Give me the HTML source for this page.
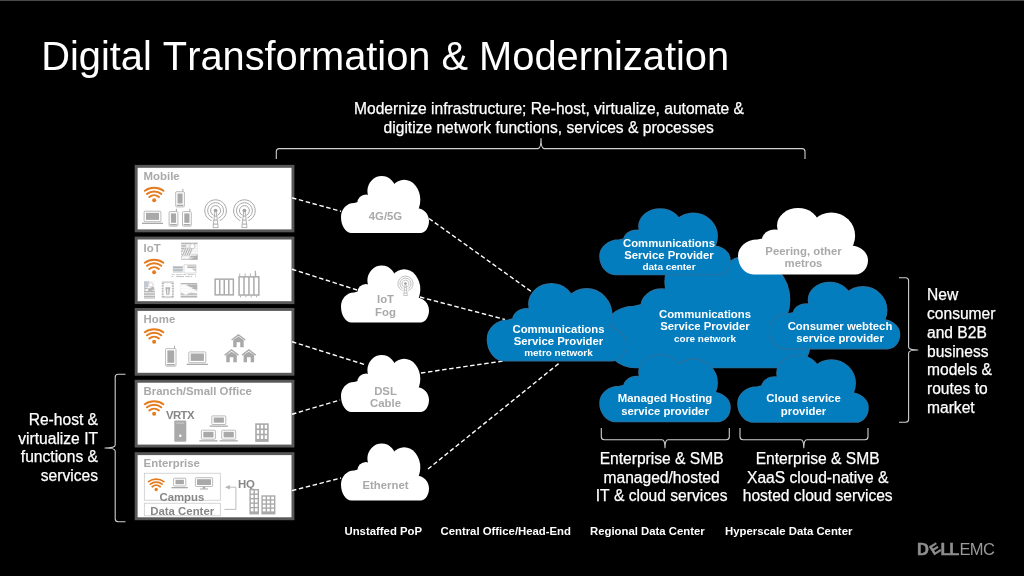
<!DOCTYPE html>
<html lang="en">
<head>
<meta charset="utf-8">
<title>Digital Transformation &amp; Modernization</title>
<style>
html,body{margin:0;padding:0;background:#000;}
body{width:1024px;height:576px;overflow:hidden;font-family:"Liberation Sans",sans-serif;}
svg{display:block;will-change:transform;}
svg text{font-family:"Liberation Sans",sans-serif;font-kerning:none;}
</style>
</head>
<body>
<svg width="1024" height="576" viewBox="0 0 1024 576">
<defs>
<pattern id="hatch" width="6" height="1.6" patternUnits="userSpaceOnUse"><rect width="6" height="1" fill="#adadad"/></pattern>
<pattern id="hatch2" width="6" height="1.6" patternUnits="userSpaceOnUse"><rect width="6" height="1.1" fill="#a9afb6"/></pattern>
</defs>
<rect x="0" y="0" width="1024" height="576" fill="#000"/>
<rect x="0" y="0" width="1024" height="1" fill="#4a4a4a"/>

<text x="41.2" y="69.5" font-size="39.8" fill="#fff" font-weight="normal" text-anchor="start" >Digital Transformation &amp; Modernization</text>
<text x="549.0" y="114.4" font-size="15.6" fill="#fff" font-weight="normal" text-anchor="middle" stroke="#fff" stroke-width="0.25">Modernize infrastructure; Re-host, virtualize, automate &amp;</text>
<text x="548.7" y="133.2" font-size="15.6" fill="#fff" font-weight="normal" text-anchor="middle" stroke="#fff" stroke-width="0.25">digitize network functions, services &amp; processes</text>
<g fill="none" stroke="#d0d0d0" stroke-width="1.1" stroke-linejoin="round">
<path d="M276.3 159 V151.6 Q276.3 148.6 279.3 148.6 H538.0 Q541 148.6 541 138.6 Q541 148.6 544.0 148.6 H802.0 Q805 148.6 805 151.6 V159"/>
<path d="M125.5 374.3 H118.2 Q115.2 374.3 115.2 377.3 V445.04999999999995 Q115.2 448.04999999999995 105 448.04999999999995 Q115.2 448.04999999999995 115.2 451.04999999999995 V518.8 Q115.2 521.8 118.2 521.8 H125.5"/>
<path d="M899 277.8 H905.6 Q908.6 277.8 908.6 280.8 V347.0 Q908.6 350.0 917.8 350.0 Q908.6 350.0 908.6 353.0 V419.2 Q908.6 422.2 905.6 422.2 H899"/>
<path d="M601.3 428 V436.7 Q601.3 439.7 604.3 439.7 H662.0 Q665 439.7 665 447.8 Q665 439.7 668.0 439.7 H726.3 Q729.3 439.7 729.3 436.7 V428"/>
<path d="M740 428 V436.7 Q740 439.7 743.0 439.7 H800.8 Q803.8 439.7 803.8 447.8 Q803.8 439.7 806.8 439.7 H865.0 Q868 439.7 868 436.7 V428"/>
</g>
<rect x="136.15" y="166.35" width="156.8" height="64.50" fill="#fff" stroke="#585858" stroke-width="2.9"/>
<text x="143.6" y="180.0" font-size="11.4" fill="#a9a9a9" font-weight="bold" text-anchor="start" >Mobile</text>
<rect x="136.15" y="238.05" width="156.8" height="64.60" fill="#fff" stroke="#585858" stroke-width="2.9"/>
<text x="143.6" y="252.0" font-size="11.4" fill="#a9a9a9" font-weight="bold" text-anchor="start" >IoT</text>
<rect x="136.15" y="309.45" width="156.8" height="64.80" fill="#fff" stroke="#585858" stroke-width="2.9"/>
<text x="143.6" y="323.2" font-size="11.4" fill="#a9a9a9" font-weight="bold" text-anchor="start" >Home</text>
<rect x="136.15" y="381.25" width="156.8" height="64.80" fill="#fff" stroke="#585858" stroke-width="2.9"/>
<text x="143.6" y="394.8" font-size="11.4" fill="#a9a9a9" font-weight="bold" text-anchor="start" >Branch/Small Office</text>
<rect x="136.15" y="453.65" width="156.8" height="65.10" fill="#fff" stroke="#585858" stroke-width="2.9"/>
<text x="143.6" y="467.0" font-size="11.4" fill="#a9a9a9" font-weight="bold" text-anchor="start" >Enterprise</text>
<g fill="none" stroke="#e47b1e" stroke-width="2.00" stroke-linecap="round"><path d="M144.85 190.80 A15.70 15.70 0 0 1 163.45 190.80"/><path d="M147.05 193.90 A11.40 11.40 0 0 1 161.25 193.90"/><path d="M149.35 197.00 A7.55 7.55 0 0 1 158.95 197.00"/><circle cx="154.15" cy="200.3" r="2.00" fill="#e47b1e" stroke="none"/></g>
<g><rect x="175.70000000000002" y="191.70000000000002" width="8.7" height="15.2" rx="1" fill="#fff" stroke="#a9a9a9" stroke-width="0.8"/><rect x="177.5" y="193.5" width="5.1" height="10" fill="#a9a9a9"/><rect x="176.8" y="204.70000000000002" width="6.5" height="1.4" fill="#a9a9a9"/><rect x="182.4" y="188.9" width="1" height="2.6" fill="#a9a9a9"/></g>
<g><rect x="169.1" y="211.6" width="8.799999999999999" height="14.6" rx="1" fill="#fff" stroke="#a9a9a9" stroke-width="0.8"/><rect x="170.89999999999998" y="213.39999999999998" width="5.199999999999999" height="9.4" fill="#a9a9a9"/><rect x="170.2" y="224.0" width="6.6" height="1.4" fill="#a9a9a9"/><rect x="175.89999999999998" y="208.79999999999998" width="1" height="2.6" fill="#a9a9a9"/></g>
<g><rect x="182.5" y="211.6" width="8.799999999999999" height="14.6" rx="1" fill="#fff" stroke="#a9a9a9" stroke-width="0.8"/><rect x="184.29999999999998" y="213.39999999999998" width="5.199999999999999" height="9.4" fill="#a9a9a9"/><rect x="183.6" y="224.0" width="6.6" height="1.4" fill="#a9a9a9"/><rect x="189.29999999999998" y="208.79999999999998" width="1" height="2.6" fill="#a9a9a9"/></g>
<g><rect x="144.1" y="211.20000000000002" width="16.8" height="10.5" rx="0.8" fill="#fff" stroke="#a9a9a9" stroke-width="0.8"/><rect x="146.0" y="212.8" width="13.000000000000002" height="7.1000000000000005" fill="#a9a9a9"/><rect x="142.0" y="222.70000000000002" width="21.0" height="1.3" fill="#a9a9a9"/></g>
<g fill="none" stroke="#a2a2a2" stroke-width="0.95"><path d="M217.47 215.24 A5.00 5.00 0 1 0 213.73 215.24"/><path d="M218.56 217.92 A7.90 7.90 0 1 0 212.64 217.92"/><path d="M219.65 220.61 A10.80 10.80 0 1 0 211.55 220.61"/><circle cx="215.6" cy="210.6" r="1.90" fill="#a0a0a0" stroke="none"/><path d="M214.90 211.60 L213.00 227.60 H218.20 L216.30 211.60 Z" fill="#fff" stroke="#a0a0a0" stroke-width="0.80"/><path d="M214.25 216.10 H216.95"/><path d="M213.77 220.10 H217.43"/><path d="M213.30 224.10 H217.90"/></g>
<g fill="none" stroke="#a2a2a2" stroke-width="0.95"><path d="M246.27 215.24 A5.00 5.00 0 1 0 242.53 215.24"/><path d="M247.36 217.92 A7.90 7.90 0 1 0 241.44 217.92"/><path d="M248.45 220.61 A10.80 10.80 0 1 0 240.35 220.61"/><circle cx="244.4" cy="210.6" r="1.90" fill="#a0a0a0" stroke="none"/><path d="M243.70 211.60 L241.80 227.60 H247.00 L245.10 211.60 Z" fill="#fff" stroke="#a0a0a0" stroke-width="0.80"/><path d="M243.05 216.10 H245.75"/><path d="M242.57 220.10 H246.23"/><path d="M242.10 224.10 H246.70"/></g>
<g fill="none" stroke="#e47b1e" stroke-width="2.00" stroke-linecap="round"><path d="M144.80 262.70 A15.70 15.70 0 0 1 163.40 262.70"/><path d="M147.00 265.80 A11.40 11.40 0 0 1 161.20 265.80"/><path d="M149.30 268.90 A7.55 7.55 0 0 1 158.90 268.90"/><circle cx="154.1" cy="272.2" r="2.00" fill="#e47b1e" stroke="none"/></g>
<g><rect x="181.2" y="242.4" width="16.4" height="17.3" fill="#fff"/><rect x="181.2" y="242.4" width="16.4" height="17.3" fill="url(#hatch)"/><path d="M186.94 244.48 L197.60 244.48 L197.60 254.51 L191.37 254.51 L188.58 258.83 L182.02 258.83 L182.02 252.78 Z" fill="#fff" opacity="0.8"/><path d="M182.51 255.89 L186.12 247.59" stroke="#b4b4b4" stroke-width="1.1"/><path d="M184.64 255.89 L188.25 247.59" stroke="#b4b4b4" stroke-width="1.1"/><path d="M186.78 255.89 L190.38 247.59" stroke="#b4b4b4" stroke-width="1.1"/><path d="M188.91 255.89 L192.52 247.59" stroke="#b4b4b4" stroke-width="1.1"/><circle cx="192.35" cy="246.21" r="2.62" fill="#fff" stroke="#bcbcbc" stroke-width="0.8"/><path d="M190.22 259.70 L197.60 254.86 L197.60 259.70 Z" fill="#b0b0b0"/></g>
<g><rect x="172.8" y="266" width="10" height="6.4" fill="#fff"/><rect x="172.8" y="266" width="10" height="6.4" fill="url(#hatch2)"/><path d="M184.0 264.7 H196.0 V273 H184.0 Z" fill="none" stroke="#cfcfcf" stroke-width="0.7"/><path d="M187.3 265 H195.8 V271.4 L190.8 268.2 H187.3 Z" fill="url(#hatch)"/><path d="M171.60000000000002 274.6 H196.0" stroke="#c4c4c4" stroke-width="0.9" stroke-dasharray="3.2 1.3 6 1"/><path d="M171.60000000000002 276.6 H196.0" stroke="#b8b8b8" stroke-width="0.9" stroke-dasharray="1.5 3 8 1.5 4 1"/></g>
<g><rect x="144" y="281.3" width="11" height="17.6" fill="#fff"/><rect x="144" y="281.3" width="11" height="17.6" fill="url(#hatch)"/><path d="M144.00 281.30 L150.05 281.30 L144.00 289.22 Z" fill="#c3cad4"/><path d="M148.95 281.30 L155.00 281.30 L155.00 290.98 L147.30 290.98 Z" fill="#fff" opacity="0.9"/><circle cx="150.82" cy="284.82" r="2.20" fill="#fff" stroke="#c8c8c8" stroke-width="0.7"/><circle cx="146.75" cy="290.10" r="1.10" fill="#fff"/><path d="M147.85 288.69 L153.90 286.58 L154.45 290.10 L148.40 291.86 Z" fill="#b8b8b8"/></g>
<g><rect x="161.8" y="281.3" width="12" height="16.8" fill="#fff"/><rect x="161.8" y="281.3" width="12" height="16.8" fill="url(#hatch)"/><rect x="163.48" y="282.98" width="8.64" height="13.44" rx="1.5" fill="#fff" opacity="0.92"/><path d="M165.40 287.18 H170.20 L169.24 294.74 H166.36 Z" fill="#b2b2b2"/><rect x="167.32" y="288.86" width="0.96" height="5.04" fill="#fff"/></g>
<g><rect x="180.6" y="283" width="16.6" height="15" fill="#fff"/><rect x="180.6" y="283" width="16.6" height="15" fill="url(#hatch)"/><path d="M180.60 284.80 L185.58 284.80 L197.20 291.25 L197.20 293.50 L190.56 292.30 L185.58 295.00 L180.60 292.00 Z" fill="#fff" opacity="0.9"/><path d="M186.41 284.50 L197.20 284.50 L197.20 289.75 Z" fill="#b4b4b4"/></g>
<g fill="none" stroke="#ababab" stroke-width="1.5"><rect x="215.15" y="279.15" width="18.20" height="15.70" fill="#fff"/><path d="M219.70 279.4 V294.59999999999997" stroke-width="1.5"/><path d="M224.25 279.4 V294.59999999999997" stroke-width="1.5"/><path d="M228.80 279.4 V294.59999999999997" stroke-width="1.5"/></g>
<g fill="none" stroke="#ababab" stroke-width="1.5"><rect x="239.05" y="276.85" width="19.80" height="18.20" fill="#fff"/><path d="M244.00 277.1 V294.8" stroke-width="1.5"/><path d="M248.95 277.1 V294.8" stroke-width="1.5"/><path d="M253.90 277.1 V294.8" stroke-width="1.5"/><path d="M239.76 273.5 V276.1 M240.56 295.8 V297.40000000000003" stroke-width="0.9"/><path d="M245.09 273.5 V276.1 M245.89 295.8 V297.40000000000003" stroke-width="0.9"/><path d="M250.41 273.5 V276.1 M251.21 295.8 V297.40000000000003" stroke-width="0.9"/><path d="M255.74 273.5 V276.1 M256.54 295.8 V297.40000000000003" stroke-width="0.9"/><path d="M255.34 270.70000000000005 V276.1" stroke-width="1.1"/></g>
<g fill="none" stroke="#e47b1e" stroke-width="2.00" stroke-linecap="round"><path d="M144.80 332.20 A15.70 15.70 0 0 1 163.40 332.20"/><path d="M147.00 335.30 A11.40 11.40 0 0 1 161.20 335.30"/><path d="M149.30 338.40 A7.55 7.55 0 0 1 158.90 338.40"/><circle cx="154.1" cy="341.7" r="2.00" fill="#e47b1e" stroke="none"/></g>
<g><rect x="165.6" y="348.59999999999997" width="10.399999999999999" height="17.599999999999998" rx="1" fill="#fff" stroke="#a9a9a9" stroke-width="0.8"/><rect x="167.39999999999998" y="350.4" width="6.799999999999999" height="12.399999999999999" fill="#a9a9a9"/><rect x="166.7" y="363.99999999999994" width="8.2" height="1.4" fill="#a9a9a9"/><rect x="173.99999999999997" y="345.8" width="1" height="2.6" fill="#a9a9a9"/></g>
<g><rect x="188.8" y="351.9" width="17.0" height="10.799999999999999" rx="0.8" fill="#fff" stroke="#a9a9a9" stroke-width="0.8"/><rect x="190.70000000000002" y="353.5" width="13.200000000000001" height="7.3999999999999995" fill="#a9a9a9"/><rect x="186.70000000000002" y="363.70000000000005" width="21.2" height="1.3" fill="#a9a9a9"/></g>
<g fill="#a9a9a9"><path d="M231.2 339.49 L238.45 333.9 L245.7 339.49 L244.89999999999998 340.55 L238.45 335.63 L232.0 340.55 Z"/><path d="M233.2 339.88 L238.45 336.56 L243.7 339.88 V347.2 H240.25 V342.15 H236.64999999999998 V347.2 H233.2 Z"/></g>
<g fill="#a9a9a9"><path d="M224.3 354.59 L231.55 349 L238.8 354.59 L238.0 355.65 L231.55 350.73 L225.10000000000002 355.65 Z"/><path d="M226.3 354.99 L231.55 351.66 L236.8 354.99 V362.3 H233.35000000000002 V357.25 H229.75 V362.3 H226.3 Z"/></g>
<g fill="#a9a9a9"><path d="M241.6 354.59 L248.85 349 L256.1 354.59 L255.3 355.65 L248.85 350.73 L242.4 355.65 Z"/><path d="M243.6 354.99 L248.85 351.66 L254.10000000000002 354.99 V362.3 H250.65 V357.25 H247.04999999999998 V362.3 H243.6 Z"/></g>
<g fill="none" stroke="#e47b1e" stroke-width="2.00" stroke-linecap="round"><path d="M144.80 404.20 A15.70 15.70 0 0 1 163.40 404.20"/><path d="M147.00 407.30 A11.40 11.40 0 0 1 161.20 407.30"/><path d="M149.30 410.40 A7.55 7.55 0 0 1 158.90 410.40"/><circle cx="154.1" cy="413.7" r="2.00" fill="#e47b1e" stroke="none"/></g>
<text x="166" y="419" font-size="11.4" fill="#878787" font-weight="bold" text-anchor="start" letter-spacing="-0.6">VRTX</text>
<g><rect x="174.3" y="420.5" width="12" height="21.3" rx="1" fill="#a9a9a9"/><rect x="176.3" y="422.5" width="8" height="1.2" fill="#c8c8c8"/><circle cx="180.3" cy="435.8" r="1.3" fill="#fff"/></g>
<g><rect x="211.8" y="415.9" width="14.0" height="8.6" rx="0.8" fill="#fff" stroke="#a9a9a9" stroke-width="0.8"/><rect x="213.70000000000002" y="417.5" width="10.200000000000001" height="5.2" fill="#a9a9a9"/><rect x="209.70000000000002" y="425.5" width="18.2" height="1.3" fill="#a9a9a9"/></g>
<g><rect x="201.4" y="430.2" width="14.0" height="9.0" rx="0.8" fill="#fff" stroke="#a9a9a9" stroke-width="0.8"/><rect x="203.3" y="431.8" width="10.200000000000001" height="5.6000000000000005" fill="#a9a9a9"/><rect x="199.3" y="440.20000000000005" width="18.2" height="1.3" fill="#a9a9a9"/></g>
<g><rect x="221.70000000000002" y="430.2" width="14.0" height="9.0" rx="0.8" fill="#fff" stroke="#a9a9a9" stroke-width="0.8"/><rect x="223.60000000000002" y="431.8" width="10.200000000000001" height="5.6000000000000005" fill="#a9a9a9"/><rect x="219.60000000000002" y="440.20000000000005" width="18.2" height="1.3" fill="#a9a9a9"/></g>
<g><rect x="255.2" y="423.3" width="13.5" height="18.6" fill="#a9a9a9"/><rect x="256.80" y="424.90" width="2.37" height="3.60" fill="#fff"/><rect x="260.77" y="424.90" width="2.37" height="3.60" fill="#fff"/><rect x="264.73" y="424.90" width="2.37" height="3.60" fill="#fff"/><rect x="256.80" y="430.10" width="2.37" height="3.60" fill="#fff"/><rect x="260.77" y="430.10" width="2.37" height="3.60" fill="#fff"/><rect x="264.73" y="430.10" width="2.37" height="3.60" fill="#fff"/><rect x="256.80" y="435.30" width="2.37" height="3.60" fill="#fff"/><rect x="260.77" y="435.30" width="2.37" height="3.60" fill="#fff"/><rect x="264.73" y="435.30" width="2.37" height="3.60" fill="#fff"/></g>
<rect x="144.3" y="473.2" width="76" height="27" fill="none" stroke="#c4c4c4" stroke-width="0.7"/>
<rect x="144.3" y="503.2" width="76" height="12.6" fill="none" stroke="#c4c4c4" stroke-width="0.7"/>
<g fill="none" stroke="#e47b1e" stroke-width="1.66" stroke-linecap="round"><path d="M148.48 481.62 A13.03 13.03 0 0 1 163.92 481.62"/><path d="M150.31 484.19 A9.46 9.46 0 0 1 162.09 484.19"/><path d="M152.22 486.76 A6.27 6.27 0 0 1 160.18 486.76"/><circle cx="156.2" cy="489.5" r="1.66" fill="#e47b1e" stroke="none"/></g>
<g><rect x="173.6" y="478.2" width="12.2" height="7.8" rx="0.8" fill="#fff" stroke="#a9a9a9" stroke-width="0.8"/><rect x="175.5" y="479.8" width="8.4" height="4.3999999999999995" fill="#a9a9a9"/><rect x="171.5" y="487.00000000000006" width="16.4" height="1.3" fill="#a9a9a9"/></g>
<g><rect x="195.4" y="477.7" width="17.2" height="8.799999999999999" rx="0.8" fill="#fff" stroke="#a9a9a9" stroke-width="0.8"/><rect x="197" y="479.2" width="14" height="5.8" fill="#a9a9a9"/><rect x="202.8" y="486.90000000000003" width="2.4" height="1.8" fill="#a9a9a9"/><rect x="200.0" y="488.50000000000006" width="8" height="1" fill="#a9a9a9"/></g>
<text x="181.9" y="500.7" font-size="11.4" fill="#878787" font-weight="bold" text-anchor="middle" >Campus</text>
<text x="182.2" y="514.9" font-size="11.4" fill="#878787" font-weight="bold" text-anchor="middle" >Data Center</text>
<text x="237.9" y="487.6" font-size="11.4" fill="#878787" font-weight="bold" text-anchor="start" >HQ</text>
<path d="M224.4 509.4 H235.9 V487.2 H229" fill="none" stroke="#b5b5b5" stroke-width="0.9"/>
<path d="M225 487.2 L229.8 484.9 V489.5 Z" fill="#b5b5b5"/>
<g><rect x="249.4" y="489" width="9.6" height="25.4" fill="#a9a9a9"/><rect x="250.80" y="490.40" width="2.70" height="3.08" fill="#fff"/><rect x="254.90" y="490.40" width="2.70" height="3.08" fill="#fff"/><rect x="250.80" y="494.88" width="2.70" height="3.08" fill="#fff"/><rect x="254.90" y="494.88" width="2.70" height="3.08" fill="#fff"/><rect x="250.80" y="499.36" width="2.70" height="3.08" fill="#fff"/><rect x="254.90" y="499.36" width="2.70" height="3.08" fill="#fff"/><rect x="250.80" y="503.84" width="2.70" height="3.08" fill="#fff"/><rect x="254.90" y="503.84" width="2.70" height="3.08" fill="#fff"/><rect x="250.80" y="508.32" width="2.70" height="3.08" fill="#fff"/><rect x="254.90" y="508.32" width="2.70" height="3.08" fill="#fff"/></g>
<g><rect x="261.4" y="495.3" width="14" height="19.1" fill="#a9a9a9"/><rect x="262.80" y="496.70" width="2.80" height="2.63" fill="#fff"/><rect x="267.00" y="496.70" width="2.80" height="2.63" fill="#fff"/><rect x="271.20" y="496.70" width="2.80" height="2.63" fill="#fff"/><rect x="262.80" y="500.72" width="2.80" height="2.63" fill="#fff"/><rect x="267.00" y="500.72" width="2.80" height="2.63" fill="#fff"/><rect x="271.20" y="500.72" width="2.80" height="2.63" fill="#fff"/><rect x="262.80" y="504.75" width="2.80" height="2.63" fill="#fff"/><rect x="267.00" y="504.75" width="2.80" height="2.63" fill="#fff"/><rect x="271.20" y="504.75" width="2.80" height="2.63" fill="#fff"/><rect x="262.80" y="508.77" width="2.80" height="2.63" fill="#fff"/><rect x="267.00" y="508.77" width="2.80" height="2.63" fill="#fff"/><rect x="271.20" y="508.77" width="2.80" height="2.63" fill="#fff"/></g>
<g stroke="#fff" stroke-width="1.4" stroke-dasharray="4.5 2.6" fill="none">
<line x1="291.99" y1="197.81" x2="341" y2="211.3"/>
<line x1="429" y1="218.5" x2="531" y2="291.3"/>
<line x1="292.02" y1="269.21" x2="357" y2="290"/>
<line x1="420" y1="297" x2="505" y2="319.5"/>
<line x1="292.02" y1="341.72" x2="366" y2="365"/>
<line x1="421" y1="373" x2="503" y2="361"/>
<line x1="292.01" y1="414.24" x2="340" y2="400"/>
<line x1="291.98" y1="490.65" x2="341" y2="478"/>
<line x1="428" y1="469" x2="560" y2="362.5"/>
</g>
<g fill="#fff"><path d="M354.00 203.00 C346.80 203.00 341.00 209.30 341.00 217.00 C341.00 225.80 345.73 233.00 351.50 233.00 H420.60 C425.30 233.00 429.00 227.60 429.00 220.80 C429.00 213.80 423.60 208.20 417.00 208.20 L411.00 196.00 L366.00 200.00 Z"/><ellipse cx="366.00" cy="203.30" rx="8.80" ry="8.80"/><ellipse cx="381.70" cy="191.00" rx="14.30" ry="15.00"/><ellipse cx="404.20" cy="199.80" rx="16.10" ry="20.00"/></g>
<text x="385.5" y="220.3" font-size="11.35" fill="#a9a9a9" font-weight="bold" text-anchor="middle" >4G/5G</text>
<g fill="#fff"><path d="M354.00 292.50 C346.80 292.50 341.00 298.80 341.00 306.50 C341.00 315.30 345.73 322.50 351.50 322.50 H420.60 C425.30 322.50 429.00 317.10 429.00 310.30 C429.00 303.30 423.60 297.70 417.00 297.70 L411.00 285.50 L366.00 289.50 Z"/><ellipse cx="366.00" cy="292.80" rx="8.80" ry="8.80"/><ellipse cx="381.70" cy="280.50" rx="14.30" ry="15.00"/><ellipse cx="404.20" cy="289.30" rx="16.10" ry="20.00"/></g>
<text x="385.5" y="303" font-size="11.35" fill="#a9a9a9" font-weight="bold" text-anchor="middle" >IoT</text>
<text x="385.5" y="316.4" font-size="11.35" fill="#a9a9a9" font-weight="bold" text-anchor="middle" >Fog</text>
<g fill="#fff"><path d="M354.00 382.00 C346.80 382.00 341.00 388.30 341.00 396.00 C341.00 404.80 345.73 412.00 351.50 412.00 H420.60 C425.30 412.00 429.00 406.60 429.00 399.80 C429.00 392.80 423.60 387.20 417.00 387.20 L411.00 375.00 L366.00 379.00 Z"/><ellipse cx="366.00" cy="382.30" rx="8.80" ry="8.80"/><ellipse cx="381.70" cy="370.00" rx="14.30" ry="15.00"/><ellipse cx="404.20" cy="378.80" rx="16.10" ry="20.00"/></g>
<text x="385.5" y="395" font-size="11.35" fill="#a9a9a9" font-weight="bold" text-anchor="middle" >DSL</text>
<text x="385.5" y="407" font-size="11.35" fill="#a9a9a9" font-weight="bold" text-anchor="middle" >Cable</text>
<g fill="#fff"><path d="M354.00 470.50 C346.80 470.50 341.00 476.80 341.00 484.50 C341.00 493.30 345.73 500.50 351.50 500.50 H420.60 C425.30 500.50 429.00 495.10 429.00 488.30 C429.00 481.30 423.60 475.70 417.00 475.70 L411.00 463.50 L366.00 467.50 Z"/><ellipse cx="366.00" cy="470.80" rx="8.80" ry="8.80"/><ellipse cx="381.70" cy="458.50" rx="14.30" ry="15.00"/><ellipse cx="404.20" cy="467.30" rx="16.10" ry="20.00"/></g>
<text x="385.5" y="489" font-size="11.35" fill="#a9a9a9" font-weight="bold" text-anchor="middle" >Ethernet</text>
<g fill="none" stroke="#a2a2a2" stroke-width="0.66"><path d="M406.81 286.85 A3.50 3.50 0 1 0 404.19 286.85"/><path d="M407.57 288.73 A5.53 5.53 0 1 0 403.43 288.73"/><path d="M408.33 290.61 A7.56 7.56 0 1 0 402.67 290.61"/><circle cx="405.5" cy="283.6" r="1.33" fill="#a0a0a0" stroke="none"/><path d="M405.01 284.30 L403.68 295.50 H407.32 L405.99 284.30 Z" fill="#fff" stroke="#a0a0a0" stroke-width="0.56"/><path d="M404.55 287.45 H406.45"/><path d="M404.22 290.25 H406.78"/><path d="M403.89 293.05 H407.11"/></g>
<g fill="#336f99" stroke="#336f99" stroke-width="1.6" stroke-linejoin="round"><path d="M633.58 306.45 C616.64 306.45 603.00 319.27 603.00 334.94 C603.00 352.85 617.82 367.50 635.93 367.50 H790.24 C801.30 367.50 810.00 356.51 810.00 342.67 C810.00 328.43 797.30 317.03 781.77 317.03 L767.66 292.20 L661.81 300.34 Z"/><ellipse cx="661.81" cy="307.06" rx="20.70" ry="17.91"/><ellipse cx="698.74" cy="282.03" rx="33.64" ry="30.53"/><ellipse cx="751.66" cy="299.94" rx="37.87" ry="40.70"/><ellipse cx="743" cy="282" rx="22" ry="25"/></g><g fill="#047dbe"><path d="M633.58 306.45 C616.64 306.45 603.00 319.27 603.00 334.94 C603.00 352.85 617.82 367.50 635.93 367.50 H790.24 C801.30 367.50 810.00 356.51 810.00 342.67 C810.00 328.43 797.30 317.03 781.77 317.03 L767.66 292.20 L661.81 300.34 Z"/><ellipse cx="661.81" cy="307.06" rx="20.70" ry="17.91"/><ellipse cx="698.74" cy="282.03" rx="33.64" ry="30.53"/><ellipse cx="751.66" cy="299.94" rx="37.87" ry="40.70"/><ellipse cx="743" cy="282" rx="22" ry="25"/></g>
<g fill="#336f99" stroke="#336f99" stroke-width="1.6" stroke-linejoin="round"><path d="M619.20 240.03 C608.57 240.03 600.00 247.27 600.00 256.11 C600.00 266.23 606.98 274.50 615.51 274.50 H717.59 C724.53 274.50 730.00 268.29 730.00 260.48 C730.00 252.44 722.02 246.00 712.27 246.00 L703.41 231.98 L636.93 236.58 Z"/><ellipse cx="636.93" cy="240.37" rx="13.00" ry="10.11"/><ellipse cx="660.12" cy="226.24" rx="21.12" ry="17.24"/><ellipse cx="693.36" cy="236.35" rx="23.78" ry="22.98"/></g><g fill="#047dbe"><path d="M619.20 240.03 C608.57 240.03 600.00 247.27 600.00 256.11 C600.00 266.23 606.98 274.50 615.51 274.50 H717.59 C724.53 274.50 730.00 268.29 730.00 260.48 C730.00 252.44 722.02 246.00 712.27 246.00 L703.41 231.98 L636.93 236.58 Z"/><ellipse cx="636.93" cy="240.37" rx="13.00" ry="10.11"/><ellipse cx="660.12" cy="226.24" rx="21.12" ry="17.24"/><ellipse cx="693.36" cy="236.35" rx="23.78" ry="22.98"/></g>
<g fill="#fff"><path d="M757.20 239.50 C746.57 239.50 738.00 246.85 738.00 255.83 C738.00 266.10 744.98 274.50 753.51 274.50 H855.59 C862.53 274.50 868.00 268.20 868.00 260.27 C868.00 252.10 860.02 245.57 850.27 245.57 L841.41 231.33 L774.93 236.00 Z"/><ellipse cx="774.93" cy="239.85" rx="13.00" ry="10.27"/><ellipse cx="798.12" cy="225.50" rx="21.12" ry="17.50"/><ellipse cx="831.36" cy="235.77" rx="23.78" ry="23.33"/></g>
<g fill="#336f99" stroke="#336f99" stroke-width="1.6" stroke-linejoin="round"><path d="M507.89 320.18 C496.60 320.18 487.50 328.67 487.50 339.04 C487.50 350.90 494.91 360.60 503.97 360.60 H612.33 C619.70 360.60 625.50 353.32 625.50 344.16 C625.50 334.73 617.03 327.19 606.68 327.19 L597.27 310.75 L526.70 316.14 Z"/><ellipse cx="526.70" cy="320.58" rx="13.80" ry="11.86"/><ellipse cx="551.33" cy="304.01" rx="22.43" ry="20.21"/><ellipse cx="586.61" cy="315.87" rx="25.25" ry="26.95"/></g><g fill="#047dbe"><path d="M507.89 320.18 C496.60 320.18 487.50 328.67 487.50 339.04 C487.50 350.90 494.91 360.60 503.97 360.60 H612.33 C619.70 360.60 625.50 353.32 625.50 344.16 C625.50 334.73 617.03 327.19 606.68 327.19 L597.27 310.75 L526.70 316.14 Z"/><ellipse cx="526.70" cy="320.58" rx="13.80" ry="11.86"/><ellipse cx="551.33" cy="304.01" rx="22.43" ry="20.21"/><ellipse cx="586.61" cy="315.87" rx="25.25" ry="26.95"/></g>
<g fill="#336f99" stroke="#336f99" stroke-width="1.6" stroke-linejoin="round"><path d="M788.70 313.81 C778.07 313.81 769.50 321.12 769.50 330.05 C769.50 340.25 776.48 348.60 785.01 348.60 H887.09 C894.03 348.60 899.50 342.34 899.50 334.45 C899.50 326.33 891.52 319.84 881.77 319.84 L872.91 305.69 L806.43 310.33 Z"/><ellipse cx="806.43" cy="314.16" rx="13.00" ry="10.20"/><ellipse cx="829.62" cy="299.89" rx="21.12" ry="17.39"/><ellipse cx="862.86" cy="310.10" rx="23.78" ry="23.19"/></g><g fill="#047dbe"><path d="M788.70 313.81 C778.07 313.81 769.50 321.12 769.50 330.05 C769.50 340.25 776.48 348.60 785.01 348.60 H887.09 C894.03 348.60 899.50 342.34 899.50 334.45 C899.50 326.33 891.52 319.84 881.77 319.84 L872.91 305.69 L806.43 310.33 Z"/><ellipse cx="806.43" cy="314.16" rx="13.00" ry="10.20"/><ellipse cx="829.62" cy="299.89" rx="21.12" ry="17.39"/><ellipse cx="862.86" cy="310.10" rx="23.78" ry="23.19"/></g>
<g fill="#336f99" stroke="#336f99" stroke-width="1.6" stroke-linejoin="round"><path d="M619.20 386.45 C608.57 386.45 600.00 393.79 600.00 402.76 C600.00 413.01 606.98 421.40 615.51 421.40 H717.59 C724.53 421.40 730.00 415.11 730.00 407.19 C730.00 399.03 722.02 392.51 712.27 392.51 L703.41 378.30 L636.93 382.96 Z"/><ellipse cx="636.93" cy="386.80" rx="13.00" ry="10.25"/><ellipse cx="660.12" cy="372.47" rx="21.12" ry="17.47"/><ellipse cx="693.36" cy="382.72" rx="23.78" ry="23.30"/></g><g fill="#047dbe"><path d="M619.20 386.45 C608.57 386.45 600.00 393.79 600.00 402.76 C600.00 413.01 606.98 421.40 615.51 421.40 H717.59 C724.53 421.40 730.00 415.11 730.00 407.19 C730.00 399.03 722.02 392.51 712.27 392.51 L703.41 378.30 L636.93 382.96 Z"/><ellipse cx="636.93" cy="386.80" rx="13.00" ry="10.25"/><ellipse cx="660.12" cy="372.47" rx="21.12" ry="17.47"/><ellipse cx="693.36" cy="382.72" rx="23.78" ry="23.30"/></g>
<g fill="#336f99" stroke="#336f99" stroke-width="1.6" stroke-linejoin="round"><path d="M757.20 387.00 C746.57 387.00 738.00 394.35 738.00 403.33 C738.00 413.60 744.98 422.00 753.51 422.00 H855.59 C862.53 422.00 868.00 415.70 868.00 407.77 C868.00 399.60 860.02 393.07 850.27 393.07 L841.41 378.83 L774.93 383.50 Z"/><ellipse cx="774.93" cy="387.35" rx="13.00" ry="10.27"/><ellipse cx="798.12" cy="373.00" rx="21.12" ry="17.50"/><ellipse cx="831.36" cy="383.27" rx="23.78" ry="23.33"/></g><g fill="#047dbe"><path d="M757.20 387.00 C746.57 387.00 738.00 394.35 738.00 403.33 C738.00 413.60 744.98 422.00 753.51 422.00 H855.59 C862.53 422.00 868.00 415.70 868.00 407.77 C868.00 399.60 860.02 393.07 850.27 393.07 L841.41 378.83 L774.93 383.50 Z"/><ellipse cx="774.93" cy="387.35" rx="13.00" ry="10.27"/><ellipse cx="798.12" cy="373.00" rx="21.12" ry="17.50"/><ellipse cx="831.36" cy="383.27" rx="23.78" ry="23.33"/></g>
<text x="669" y="246.8" font-size="11.35" fill="#fff" font-weight="bold" text-anchor="middle" >Communications</text>
<text x="669" y="258.5" font-size="11.35" fill="#fff" font-weight="bold" text-anchor="middle" >Service Provider</text>
<text x="669" y="270" font-size="9.95" fill="#fff" font-weight="bold" text-anchor="middle" >data center</text>
<text x="558.5" y="333" font-size="11.35" fill="#fff" font-weight="bold" text-anchor="middle" >Communications</text>
<text x="558.5" y="344.8" font-size="11.35" fill="#fff" font-weight="bold" text-anchor="middle" >Service Provider</text>
<text x="558.5" y="356.2" font-size="9.95" fill="#fff" font-weight="bold" text-anchor="middle" >metro network</text>
<text x="705" y="318.2" font-size="11.35" fill="#fff" font-weight="bold" text-anchor="middle" >Communications</text>
<text x="705" y="330" font-size="11.35" fill="#fff" font-weight="bold" text-anchor="middle" >Service Provider</text>
<text x="705" y="341.5" font-size="9.95" fill="#fff" font-weight="bold" text-anchor="middle" >core network</text>
<text x="840" y="330" font-size="11.35" fill="#fff" font-weight="bold" text-anchor="middle" >Consumer webtech</text>
<text x="840" y="342.3" font-size="11.35" fill="#fff" font-weight="bold" text-anchor="middle" >service provider</text>
<text x="665" y="402" font-size="11.35" fill="#fff" font-weight="bold" text-anchor="middle" >Managed Hosting</text>
<text x="665" y="414.6" font-size="11.35" fill="#fff" font-weight="bold" text-anchor="middle" >service provider</text>
<text x="803.5" y="401.7" font-size="11.35" fill="#fff" font-weight="bold" text-anchor="middle" >Cloud service</text>
<text x="803.5" y="414.6" font-size="11.35" fill="#fff" font-weight="bold" text-anchor="middle" >provider</text>
<text x="803.5" y="254.8" font-size="11.35" fill="#a9a9a9" font-weight="bold" text-anchor="middle" >Peering, other</text>
<text x="803.5" y="267.2" font-size="11.35" fill="#a9a9a9" font-weight="bold" text-anchor="middle" >metros</text>
<text x="98" y="424.8" font-size="15.6" fill="#fff" font-weight="normal" text-anchor="end" stroke="#fff" stroke-width="0.25">Re-host &amp;</text>
<text x="98" y="443.52" font-size="15.6" fill="#fff" font-weight="normal" text-anchor="end" stroke="#fff" stroke-width="0.25">virtualize IT</text>
<text x="98" y="462.24" font-size="15.6" fill="#fff" font-weight="normal" text-anchor="end" stroke="#fff" stroke-width="0.25">functions &amp;</text>
<text x="98" y="480.96" font-size="15.6" fill="#fff" font-weight="normal" text-anchor="end" stroke="#fff" stroke-width="0.25">services</text>
<text x="927" y="300.3" font-size="15.6" fill="#fff" font-weight="normal" text-anchor="start" stroke="#fff" stroke-width="0.25">New</text>
<text x="927" y="319.06" font-size="15.6" fill="#fff" font-weight="normal" text-anchor="start" stroke="#fff" stroke-width="0.25">consumer</text>
<text x="927" y="337.82" font-size="15.6" fill="#fff" font-weight="normal" text-anchor="start" stroke="#fff" stroke-width="0.25">and B2B</text>
<text x="927" y="356.58" font-size="15.6" fill="#fff" font-weight="normal" text-anchor="start" stroke="#fff" stroke-width="0.25">business</text>
<text x="927" y="375.34" font-size="15.6" fill="#fff" font-weight="normal" text-anchor="start" stroke="#fff" stroke-width="0.25">models &amp;</text>
<text x="927" y="394.1" font-size="15.6" fill="#fff" font-weight="normal" text-anchor="start" stroke="#fff" stroke-width="0.25">routes to</text>
<text x="927" y="412.86" font-size="15.6" fill="#fff" font-weight="normal" text-anchor="start" stroke="#fff" stroke-width="0.25">market</text>
<text x="661.6" y="463.9" font-size="15.6" fill="#fff" font-weight="normal" text-anchor="middle" stroke="#fff" stroke-width="0.25">Enterprise &amp; SMB</text>
<text x="661.6" y="482.65" font-size="15.6" fill="#fff" font-weight="normal" text-anchor="middle" stroke="#fff" stroke-width="0.25">managed/hosted</text>
<text x="661.6" y="501.4" font-size="15.6" fill="#fff" font-weight="normal" text-anchor="middle" stroke="#fff" stroke-width="0.25">IT &amp; cloud services</text>
<text x="817.7" y="463.9" font-size="15.6" fill="#fff" font-weight="normal" text-anchor="middle" stroke="#fff" stroke-width="0.25">Enterprise &amp; SMB</text>
<text x="817.7" y="482.65" font-size="15.6" fill="#fff" font-weight="normal" text-anchor="middle" stroke="#fff" stroke-width="0.25">XaaS cloud-native &amp;</text>
<text x="817.7" y="501.4" font-size="15.6" fill="#fff" font-weight="normal" text-anchor="middle" stroke="#fff" stroke-width="0.25">hosted cloud services</text>
<text x="344.5" y="534.6" font-size="11.35" fill="#fff" font-weight="bold" text-anchor="start" >Unstaffed PoP</text>
<text x="440.5" y="534.6" font-size="11.35" fill="#fff" font-weight="bold" text-anchor="start" >Central Office/Head-End</text>
<text x="590" y="534.6" font-size="11.35" fill="#fff" font-weight="bold" text-anchor="start" >Regional Data Center</text>
<text x="725" y="534.6" font-size="11.35" fill="#fff" font-weight="bold" text-anchor="start" >Hyperscale Data Center</text>
<text font-size="16.5" font-weight="bold" fill="#8e8e8e" stroke="#8e8e8e" stroke-width="0.45" stroke-linejoin="round"><tspan x="916.9" y="554.9">D</tspan><tspan x="933.53" y="555.55" rotate="-32" font-size="14.2">E</tspan><tspan x="940.6" y="554.9" rotate="0">L</tspan><tspan x="949.2" y="554.9" rotate="0">L</tspan></text>
<text x="959.4" y="554.9" font-size="16.5" fill="#9a9a9a" font-weight="normal" text-anchor="start" letter-spacing="-0.55">EMC</text>
</svg>
</body>
</html>
